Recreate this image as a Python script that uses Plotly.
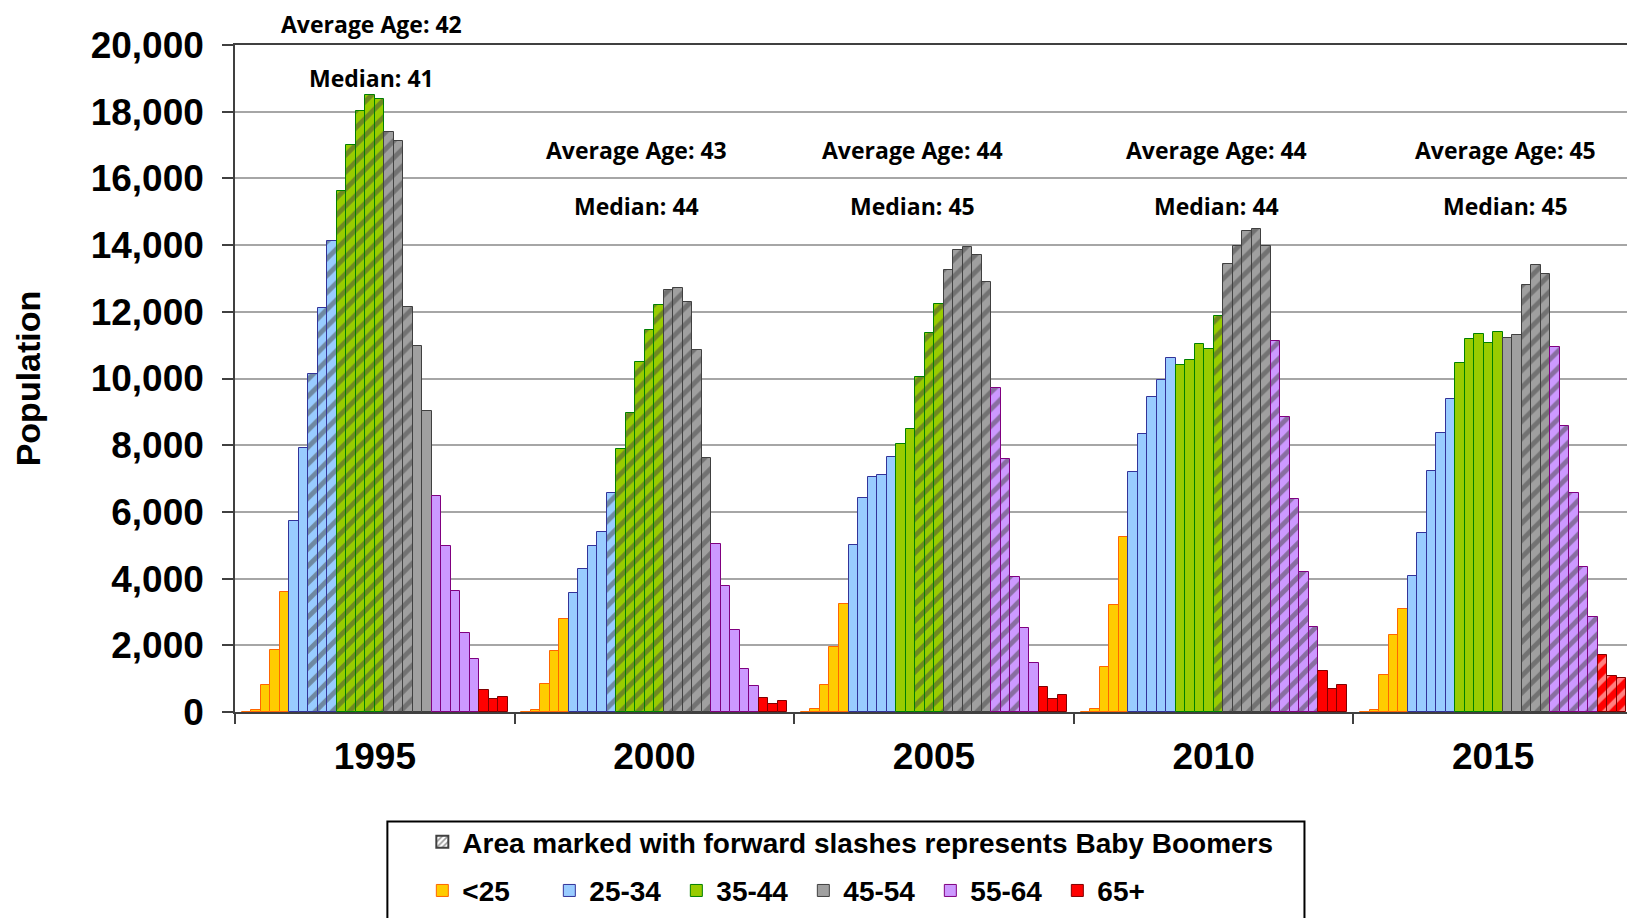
import plotly.graph_objects as go

years = ["1995", "2000", "2005", "2010", "2015"]
avg_age = [42, 43, 44, 44, 45]
median_age = [41, 44, 45, 44, 45]

groups = ["<25", "25-34", "35-44", "45-54", "55-64", "65+"]
group_fill = ["#FFCC00", "#99CCFF", "#99CC00", "#A0A0A0", "#CC99FF", "#FF0000"]
group_line = ["#FF6600", "#333399", "#008000", "#404040", "#800080", "#800000"]
# age-group index for each of the 28 bars in a year cluster
bar_group = [0]*5 + [1]*5 + [2]*5 + [3]*5 + [4]*5 + [5]*3

pop_1995 = [0, 50, 806, 1861, 3585, 5720, 7916, 10149, 12109, 14119, 15620, 17010, 18015, 18486, 18387,
            17382, 17109, 12134, 10980, 9032, 6489, 4963, 3635, 2382, 1576, 670, 385, 447]
pop_2000 = [0, 71, 842, 1836, 2780, 3561, 4302, 4971, 5387, 6554, 7893, 8958, 10490, 11464, 12215,
            12661, 12722, 12296, 10865, 7619, 5032, 3764, 2455, 1278, 791, 426, 254, 325]
pop_2005 = [0, 81, 811, 1957, 3245, 5010, 6430, 7039, 7110, 7657, 8022, 8479, 10051, 11359, 12241,
            13245, 13854, 13955, 13712, 12901, 9726, 7596, 4037, 2515, 1471, 740, 375, 497]
pop_2010 = [0, 101, 1349, 3205, 5233, 7211, 8347, 9442, 9970, 10619, 10416, 10568, 11024, 10892, 11876,
            13448, 13986, 14412, 14493, 13976, 11126, 8834, 6379, 4209, 2535, 1227, 690, 811]
pop_2015 = [0, 71, 1105, 2323, 3093, 4087, 5355, 7231, 8357, 9371, 10456, 11187, 11329, 11055, 11400,
            11207, 11298, 12789, 13398, 13124, 10953, 8590, 6572, 4361, 2860, 1724, 1075, 1024]
populations = [pop_1995, pop_2000, pop_2005, pop_2010, pop_2015]

# first and last bar index of the Baby Boomer (hatched) range per year
boomer_start = [7, 9, 12, 14, 17]
boomer_end = [17, 19, 22, 24, 27]

# ---------------------------------------------------------------
n_bars = len(bar_group)
slots = 29.43            # bar slots per year cluster (bars + gap)
w = 1.0 / slots

xs, ys, fills, lines, shapes = [], [], [], [], []
for g, pops in enumerate(populations):
    for i, v in enumerate(pops):
        xs.append(g + (i - (n_bars - 1) / 2) * w)
        ys.append(v)
        fills.append(group_fill[bar_group[i]])
        lines.append(group_line[bar_group[i]])
        shapes.append("/" if boomer_start[g] <= i <= boomer_end[g] else "")

fig = go.Figure()
fig.add_trace(go.Bar(
    x=xs, y=ys, width=w,
    marker=dict(color=fills, line=dict(color=lines, width=1),
                pattern=dict(shape=shapes, fgcolor="black", size=12, solidity=0.4,
                             fillmode="overlay")),
    showlegend=False, hoverinfo="y",
))

legend_font = dict(family="Liberation Sans Narrow, Arial Narrow, Liberation Sans, Arial", size=28,
                   color="black", weight="bold")

fig.add_trace(go.Bar(
    x=[None], y=[None], name="Area marked with forward slashes represents Baby Boomers",
    marker=dict(color="white", line=dict(color="#404040", width=1),
                pattern=dict(shape="/", fgcolor="#333333", size=5, solidity=0.4, fillmode="overlay")),
    legend="legend", showlegend=True,
))
for k, name in enumerate(groups):
    fig.add_trace(go.Bar(
        x=[None], y=[None], name=name,
        marker=dict(color=group_fill[k], line=dict(color=group_line[k], width=1)),
        legend="legend2", showlegend=True,
    ))

# Average / median annotations (pixel offsets from cluster centres)
ann_dx_px = [-3, -18, -22, 3, 12]
px_per_unit = 1398 / 5
plot_h = 659.0
for g in range(len(years)):
    xa = g + ann_dx_px[g] / px_per_unit
    if g == 0:
        y_avg, y_med = (704 - 24) / plot_h, (704 - 78) / plot_h
    else:
        y_avg, y_med = (704 - 149) / plot_h, (704 - 204) / plot_h
    for txt, yy in ((f"Average Age: {avg_age[g]}", y_avg), (f"Median: {median_age[g]}", y_med)):
        fig.add_annotation(x=xa, y=yy, xref="x", yref="paper", text=txt, showarrow=False,
                           font=dict(family="Open Sans, Noto Sans, Arial", size=23,
                                     color="black", weight="bold"),
                           xanchor="center", yanchor="middle", borderpad=0)

axis_font = dict(family="Liberation Sans, Arial", size=37, color="black", weight="bold")

# page body adds an 8px offset; figure sized to fill the 1635x918 window
fig.update_layout(
    width=1627, height=910,
    margin=dict(l=227, r=2, t=37, b=206, autoexpand=False),
    paper_bgcolor="white", plot_bgcolor="white",
    bargap=0,
    xaxis=dict(
        range=[-0.5, len(years) - 0.5], automargin=False,
        tickmode="array", tickvals=list(range(len(years))), ticktext=years,
        ticks="", tickfont=axis_font, ticklabelstandoff=11,
        minor=dict(tickmode="array", tickvals=[g - 0.5 for g in range(len(years) + 1)],
                   ticks="outside", ticklen=10, tickcolor="#404040", tickwidth=1.5, showgrid=False),
        showline=True, linecolor="#404040", linewidth=1.5, mirror=True,
        showgrid=False, zeroline=False,
    ),
    yaxis=dict(
        range=[0, 20000], dtick=2000, tickformat=",", automargin=False,
        ticks="outside", ticklen=11, tickcolor="#404040", tickwidth=1.5,
        tickfont=axis_font, ticklabelstandoff=11,
        showline=True, linecolor="#404040", linewidth=1.5, mirror=True,
        showgrid=True, gridcolor="#A6A6A6", gridwidth=1.5, zeroline=False,
        title=dict(text="Population", font=dict(family="Liberation Sans, Arial", size=34,
                                                 color="black", weight="bold"), standoff=40),
    ),
    legend=dict(orientation="h", x=0.134, xanchor="left", y=-0.195, yanchor="middle",
                font=legend_font, bgcolor="rgba(0,0,0,0)", itemsizing="constant"),
    legend2=dict(orientation="h", x=0.134, xanchor="left", y=-0.268, yanchor="middle",
                 font=legend_font, bgcolor="rgba(0,0,0,0)", entrywidth=82, entrywidthmode="pixels"),
    shapes=[dict(type="rect", xref="paper", yref="paper", x0=0.109, x1=0.765, y0=-0.35, y1=-0.164,
                 line=dict(color="black", width=2), fillcolor="rgba(0,0,0,0)", layer="below")],
)

fig.write_html("out.html")
